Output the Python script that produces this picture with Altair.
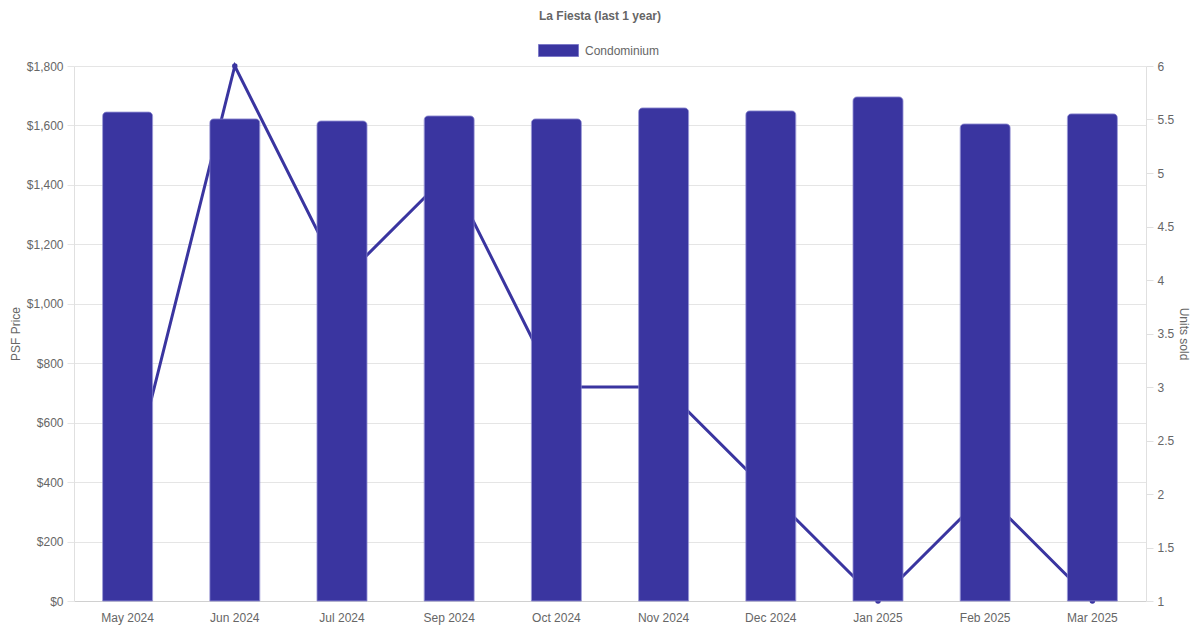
import altair as alt
import pandas as pd

months = ["May 2024", "Jun 2024", "Jul 2024", "Sep 2024", "Oct 2024",
          "Nov 2024", "Dec 2024", "Jan 2025", "Feb 2025", "Mar 2025"]
psf = [1645, 1622, 1615, 1632, 1622, 1659, 1649, 1696, 1605, 1639]
units = [2, 6, 4, 5, 3, 3, 2, 1, 2, 1]
series = ["Condominium"] * len(months)

df = pd.DataFrame({"month": months, "psf": psf, "units": units, "type": series})

COLOR = "#3a35a0"
EDGE = "#7d7ac8"
FONT = "Liberation Sans"
GREY = "#666666"

x = alt.X("month:N", sort=months, title=None,
          scale=alt.Scale(paddingInner=0, paddingOuter=0),
          axis=alt.Axis(labelAngle=0, ticks=False, labelPadding=11, grid=False,
                        domainColor="#d0d0d0", labelColor=GREY, labelFontSize=12,
                        labelFont=FONT))

line = alt.Chart(df).mark_line(
    color=COLOR, strokeWidth=3,
    point=alt.OverlayMarkDef(size=30, filled=True, color=COLOR, opacity=1),
).encode(
    x=x,
    y=alt.Y("units:Q", title="Units sold",
            scale=alt.Scale(domain=[1, 6], nice=False, zero=False),
            axis=alt.Axis(orient="right", values=[1, 1.5, 2, 2.5, 3, 3.5, 4, 4.5, 5, 5.5, 6],
                          format="~g", grid=False, tickSize=7, tickColor="#e0e0e0",
                          domainColor="#e0e0e0", labelPadding=4, labelColor=GREY,
                          labelFontSize=12, labelFont=FONT, titleColor=GREY,
                          titleFontSize=12, titleFont=FONT, titleFontWeight="normal",
                          titleAngle=90, titlePadding=3)),
)

bars = alt.Chart(df).mark_bar(
    size=50, cornerRadiusTopLeft=4, cornerRadiusTopRight=4,
    stroke=EDGE, strokeWidth=0.7,
).encode(
    x=x,
    y=alt.Y("psf:Q", title="PSF Price",
            scale=alt.Scale(domain=[0, 1800], nice=False),
            axis=alt.Axis(orient="left", values=list(range(0, 1801, 200)),
                          format="$,.0f", grid=True, gridColor="#e5e5e5",
                          tickSize=7, tickColor="#e5e5e5", domainColor="#e0e0e0",
                          labelPadding=4, labelColor=GREY, labelFontSize=12,
                          labelFont=FONT, titleColor=GREY, titleFontSize=12,
                          titleFont=FONT, titleFontWeight="normal", titlePadding=4)),
    color=alt.Color("type:N", scale=alt.Scale(range=[COLOR]),
                    legend=alt.Legend(title=None, orient="none", legendX=464, legendY=-36,
                                      symbolType="M-1,-0.3H1V0.3H-1Z", symbolSize=1600,
                                      symbolStrokeColor=EDGE, symbolStrokeWidth=1,
                                      labelColor=GREY, labelFontSize=12, labelFont=FONT,
                                      labelOffset=6, padding=0)),
)

chart = alt.layer(line, bars).resolve_scale(y="independent").properties(
    width=1072, height=535,
    title=alt.TitleParams("La Fiesta (last 1 year)", fontSize=12, font=FONT,
                          fontWeight="bold", color=GREY, offset=7, dx=-10),
    autosize=alt.AutoSizeParams(type="none"),
    padding={"left": 66, "top": 58, "right": 46, "bottom": 27},
).configure_view(stroke=None)

chart.save("out.html", embed_options={"renderer": "svg", "actions": False})
